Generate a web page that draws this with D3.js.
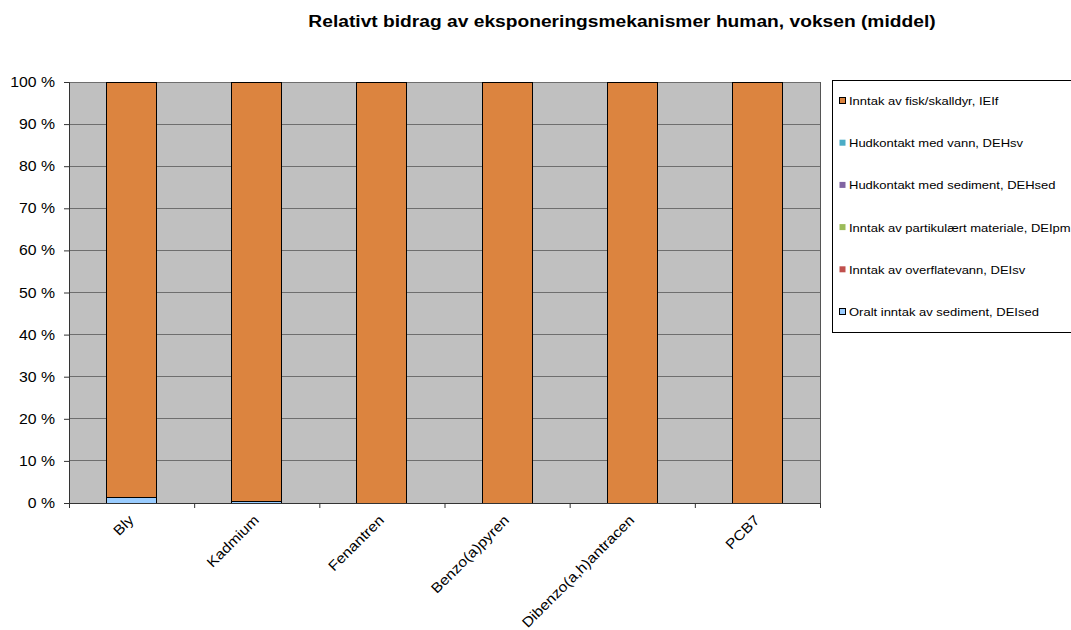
<!DOCTYPE html>
<html><head><meta charset="utf-8">
<script src="https://cdn.jsdelivr.net/npm/d3@7"></script>
<style>body{margin:0;background:#fff;font-family:"Liberation Sans",Arial,sans-serif;}</style>
</head><body>
<svg id="chart" width="1071" height="630"></svg>
<script>
const categories = ["Bly","Kadmium","Fenantren","Benzo(a)pyren","Dibenzo(a,h)antracen","PCB7"];
// series in stacking order (bottom to top)
const seriesNames = ["Oralt inntak av sediment, DEIsed","Inntak av overflatevann, DEIsv","Inntak av partikulært materiale, DEIpm","Hudkontakt med sediment, DEHsed","Hudkontakt med vann, DEHsv","Inntak av fisk/skalldyr, IEIf"];
const seriesKeys = ["DEIsed","DEIsv","DEIpm","DEHsed","DEHsv","IEIf"];
const DEIsed = [1.2, 0.3, 0, 0, 0, 0];
const DEIsv  = [0, 0, 0, 0, 0, 0];
const DEIpm  = [0, 0, 0, 0, 0, 0];
const DEHsed = [0, 0, 0, 0, 0, 0];
const DEHsv  = [0, 0, 0, 0, 0, 0];
const IEIf   = [98.8, 99.7, 100, 100, 100, 100];
const yTicks = [0,10,20,30,40,50,60,70,80,90,100];
const colors = ["#99ccff","#c0504d","#9bbb59","#8064a2","#4bacc6","#dc843f"];

const valuesByKey = {DEIsed, DEIsv, DEIpm, DEHsed, DEHsv, IEIf};
const table = categories.map((c,i)=>{const o={cat:c}; seriesKeys.forEach(k=>o[k]=valuesByKey[k][i]); return o;});

const SX = 1.13; // horizontal text stretch of the original rendering
const svg = d3.select("#chart");
const L=69, R=820, T=82, B=503;
const x = d3.scaleBand().domain(categories).range([L,R]).paddingInner(0.6).paddingOuter(0.3);
const xTickScale = d3.scaleLinear().domain([0,categories.length]).range([L,R]);
const y = d3.scaleLinear().domain([0,100]).range([B,T]);

svg.append("text").attr("transform",`translate(622,27) scale(${SX},1)`).attr("text-anchor","middle")
  .style("font-size","17px").style("font-weight","bold").text("Relativt bidrag av eksponeringsmekanismer human, voksen (middel)");

svg.append("rect").attr("x",L).attr("y",T).attr("width",R-L).attr("height",B-T).attr("fill","#c0c0c0");

// gridlines
svg.append("g").selectAll("line").data(yTicks.filter(d=>d>0)).join("line")
  .attr("x1",L).attr("x2",R).attr("y1",d=>y(d)).attr("y2",d=>y(d))
  .attr("stroke","#6e6e6e").attr("stroke-width",1).attr("shape-rendering","crispEdges");

const stack = d3.stack().keys(seriesKeys)(table);
svg.append("g").selectAll("g").data(stack).join("g")
  .attr("fill",(d,i)=>colors[i])
  .selectAll("rect").data(d=>d.filter(p=>p[1]-p[0]>0)).join("rect")
  .attr("x",d=>x(d.data.cat)).attr("width",x.bandwidth())
  .attr("y",d=>y(d[1])).attr("height",d=>y(d[0])-y(d[1]))
  .attr("stroke","#000").attr("stroke-width",1).attr("shape-rendering","crispEdges");

// right border of plot
svg.append("line").attr("x1",R).attr("x2",R).attr("y1",T).attr("y2",B).attr("stroke","#555").attr("shape-rendering","crispEdges");

// y axis
const yAxis = svg.append("g").attr("transform",`translate(${L},0)`)
  .call(d3.axisLeft(y).tickValues(yTicks).tickSize(5).tickFormat(""));
yAxis.select(".domain").attr("stroke","#333");
yAxis.selectAll(".tick line").attr("stroke","#333");
svg.append("g").selectAll("text").data(yTicks).join("text")
  .attr("transform",d=>`translate(55,${y(d)+5}) scale(${SX},1)`)
  .attr("text-anchor","end").style("font-size","14px").attr("fill","#000").text(d=>d+" %");

// x axis
const xAxis = svg.append("g").attr("transform",`translate(0,${B})`)
  .call(d3.axisBottom(xTickScale).tickValues(d3.range(0,categories.length+1)).tickSize(5).tickFormat(""));
xAxis.select(".domain").attr("stroke","#333");
xAxis.selectAll(".tick line").attr("stroke","#333");

svg.append("g").selectAll("text").data(categories).join("text")
  .attr("transform",d=>`translate(${x(d)+x.bandwidth()/2+3},${B+18}) rotate(-45) scale(${SX},1)`)
  .attr("text-anchor","end").style("font-size","14px").attr("fill","#000").text(d=>d);

// legend
const lg = svg.append("g");
lg.append("rect").attr("x",832.5).attr("y",80.5).attr("width",250).attr("height",252)
  .attr("fill","#fff").attr("stroke","#000");
const legendOrder = d3.range(seriesKeys.length).reverse();
lg.selectAll("g.item").data(legendOrder).join("g").attr("class","item")
  .attr("transform",(d,i)=>`translate(839,${101+i*42.2})`)
  .each(function(d){
    const g=d3.select(this);
    g.append("rect").attr("x",0.5).attr("y",-3.5).attr("width",6).attr("height",6)
      .attr("fill",colors[d]).attr("stroke",(d===0||d===5)?"#000":"none").attr("stroke-width",1);
    g.append("text").attr("transform",`translate(10,4) scale(${SX},1)`).style("font-size","11.5px").attr("fill","#000").text(seriesNames[d]);
  });
</script>
</body></html>
